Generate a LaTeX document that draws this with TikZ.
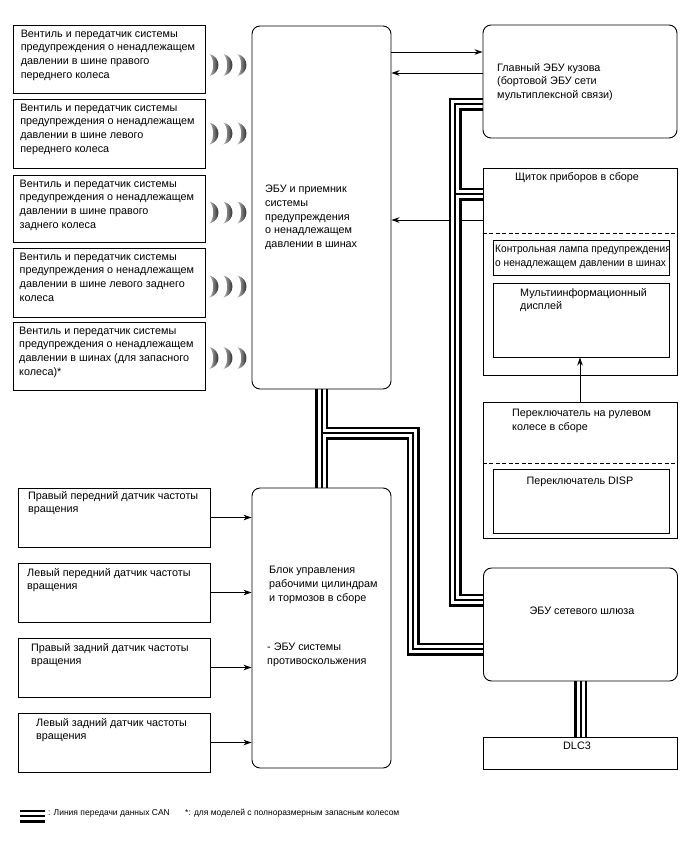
\documentclass[tikz,border=0pt]{standalone}
\usepackage{fontspec}
\setmainfont{Liberation Sans}
\usetikzlibrary{calc,arrows.meta,backgrounds,positioning}

\begin{document}
\begin{tikzpicture}[x=1pt,y=-1pt,
		box/.style={draw,line width=0.9pt,inner sep=0pt},
		ecu/.style={box,rounded corners=8pt},
		txt/.style={inner sep=0pt,align=left,anchor=north west,font=\fontsize{10.8}{13.7}\selectfont},
		arr/.style={line width=0.9pt,-{Stealth[length=8pt,width=5.5pt]}},
		sep/.style={line width=0.9pt,dash pattern=on 4pt off 2.5pt}]
	\useasboundingbox (0,0) rectangle (688,852);
	
	% transmitters
	\node[box,minimum width=192,minimum height=68] (tp1) at (109,59) {};
	\node[box,minimum width=192,minimum height=69] (tp2) at (109,133.5) {};
	\node[box,minimum width=192,minimum height=67] (tp3) at (109,208.5) {};
	\node[box,minimum width=192,minimum height=69] (tp4) at (109,282.5) {};
	\node[box,minimum width=192,minimum height=68] (tp5) at (109,356) {};
	\node[txt] (tt1) at ($(tp1.north west)+(8,5)$) {Вентиль и передатчик системы\\предупреждения о ненадлежащем\\давлении в шине правого\\переднего колеса};
	\node[txt] (tt2) at ($(tp2.north west)+(7.5,5)$) {Вентиль и передатчик системы\\предупреждения о ненадлежащем\\давлении в шине левого\\переднего колеса};
	\node[txt] (tt3) at ($(tp3.north west)+(7,5)$) {Вентиль и передатчик системы\\предупреждения о ненадлежащем\\давлении в шине правого\\заднего колеса};
	\node[txt] (tt4) at ($(tp4.north west)+(7,5)$) {Вентиль и передатчик системы\\предупреждения о ненадлежащем\\давлении в шине левого заднего\\колеса};
	\node[txt] (tt5) at ($(tp5.north west)+(6.5,5)$) {Вентиль и передатчик системы\\предупреждения о ненадлежащем\\давлении в шинах (для запасного\\колеса)*};
	
	% radio waves
	\foreach \i/\dy in {1/6,2/0,3/4,4/4,5/2}{
		\foreach \dx in {4,18,32}{
			\shade[left color=gray!55,right color=black]
			($(tp\i.east)+(\dx,\dy-11)$) .. controls +(12,3) and +(12,-3) .. ++(0,22)
			.. controls +(5,-5) and +(5,5) .. ++(0,-22) -- cycle;}
	}
	
	% tpms ecu
	\node[ecu,minimum width=139,minimum height=363] (tpecu) at (321.5,207.5) {};
	\node[txt] (tecu) at (265,185) {ЭБУ и приемник\\системы\\предупреждения\\о ненадлежащем\\давлении в шинах};
	
	% main body ecu
	\node[ecu,minimum width=194,minimum height=113] (body) at (580,81.5) {};
	\node[txt] (tbody) at (497,63) {Главный ЭБУ кузова\\(бортовой ЭБУ сети\\мультиплексной связи)};
	
	% combination meter
	\node[box,minimum width=194,minimum height=207] (meter) at (580,271.5) {};
	\node[txt,anchor=north] (tmeter) at (577,172) {Щиток приборов в сборе};
	\draw[sep] (meter.west |- 0,233) -- (meter.east |- 0,233);
	\node[box,minimum width=176,minimum height=35] (lamp) at (581,257.5) {};
	\node[txt] (tlamp) at (495,245) {\scalebox{0.94}[1]{Контрольная лампа предупреждения}\\\scalebox{0.94}[1]{о ненадлежащем давлении в шинах}};
	\node[box,minimum width=176,minimum height=74] (disp) at (581,320) {};
	\node[txt] (tdisp) at (520,288) {Мультиинформационный\\дисплей};
	
	% steering pad switch
	\node[box,minimum width=194,minimum height=136] (steer) at (580,470) {};
	\node[txt] (tsteer) at (512,409) {Переключатель на рулевом\\колесе в сборе};
	\draw[sep] (steer.west |- 0,463) -- (steer.east |- 0,463);
	\node[box,minimum width=176,minimum height=64] (dsw) at (581,501) {};
	\node[txt,anchor=north] (tdsw) at (580,477) {Переключатель DISP};
	
	% gateway and dlc3
	\node[ecu,minimum width=194,minimum height=113] (gw) at (580.5,624.5) {};
	\node[txt,anchor=north] (tgw) at (582,607) {ЭБУ сетевого шлюза};
	\node[box,minimum width=194,minimum height=32] (dlc) at (580.5,753) {};
	\node[txt,anchor=north] (tdlc) at (577,742) {DLC3};
	
	% brake ecu
	\node[ecu,minimum width=139,minimum height=280] (brake) at (321.5,628) {};
	\node[txt] (tbr1) at (269,566) {Блок управления\\рабочими цилиндрам\\и тормозов в сборе};
	\node[txt] (tbr2) at (267,643) {- ЭБУ системы\\противоскольжения};
	
	% speed sensors
	\node[box,minimum width=192,minimum height=59] (ss1) at (114,517.5) {};
	\node[box,minimum width=192,minimum height=59] (ss2) at (114,592.5) {};
	\node[box,minimum width=192,minimum height=59] (ss3) at (114,667.5) {};
	\node[box,minimum width=192,minimum height=59] (ss4) at (114,742.5) {};
	\node[txt] (ts1) at (28,491) {Правый передний датчик частоты\\вращения};
	\node[txt] (ts2) at (27,568) {Левый передний датчик частоты\\вращения};
	\node[txt] (ts3) at (31,643) {Правый задний датчик частоты\\вращения};
	\node[txt] (ts4) at (36,718) {Левый задний датчик частоты\\вращения};
	\foreach \i in {1,...,4}{
		\draw[arr] (ss\i.east) -- (ss\i.east -| brake.west);}
	
	\draw[arr] (tpecu.east |- 0,52) -- (body.west |- 0,52);
	\draw[arr] (body.west |- 0,73) -- (tpecu.east |- 0,73);
	\draw[arr] (steer.north) -- (steer.north |- disp.south);
	
	% can lines
	\coordinate (b1) at (455,104);
	\coordinate (b2) at (455,194);
	\coordinate (b3) at (455,600);
	\coordinate (c1) at (tpecu.south |- 0,433);
	\coordinate (c2) at (413,433);
	\coordinate (c3) at (413,649);
	\coordinate (l1) at (20,816);
	\coordinate (l2) at (45,816);
	
	\begin{scope}[on background layer]
		\draw[arr] (meter.west |- 0,220) -- (tpecu.east |- 0,220);
		\foreach \w/\c in {13/black,8/white,2/black}{
			\draw[line width=\w pt,\c] (body.west |- b1) -- (b1) -- (b3) -- (gw.west |- b3)
			(b2) -- (meter.west |- b2)
			(tpecu.south) -- (brake.north)
			(c1) -- (c2) -- (c3) -- (gw.west |- c3)
			(gw.south) -- (dlc.north)
			(l1) -- (l2);}
	\end{scope}
	
	\node[anchor=base west,inner sep=0pt,font=\fontsize{8.5}{10}\selectfont] (leg1) at (48,815) {: Линия передачи данных CAN};
	\node[anchor=base west,inner sep=0pt,font=\fontsize{8.5}{10}\selectfont] (leg2) at (185,815) {*: для моделей с полноразмерным запасным колесом};
\end{tikzpicture}
\end{document}
